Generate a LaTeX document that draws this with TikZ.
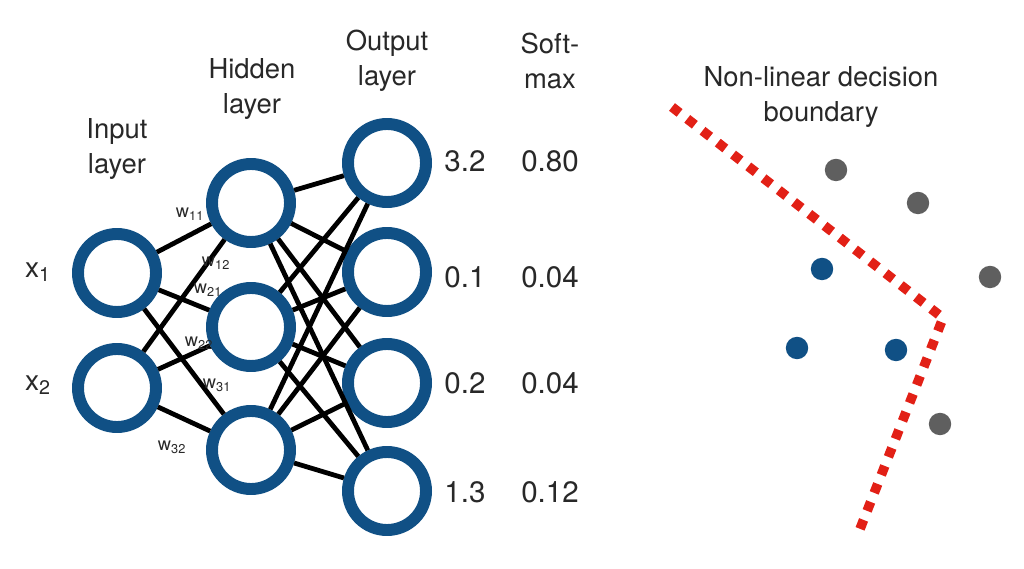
\documentclass[tikz,border=0pt]{standalone}
\usepackage{fontspec}
\setmainfont{TeX Gyre Heros}
\definecolor{netblue}{RGB}{16,80,133}
\definecolor{dotgray}{RGB}{95,95,95}
\definecolor{bndred}{RGB}{226,32,22}
\definecolor{txtgray}{RGB}{40,40,40}
\begin{document}
\begin{tikzpicture}[x=0.025cm,y=-0.025cm,
  neuron/.style={circle,draw=netblue,line width=8.5pt,minimum size=1.95cm,inner sep=0pt},
  wire/.style={line width=3.4pt,black},
  head/.style={align=center,text=txtgray,font=\fontsize{19.5}{25}\selectfont},
  val/.style={text=txtgray,font=\fontsize{21}{24}\selectfont},
  wlab/.style={text=txtgray,font=\fontsize{13}{14}\selectfont,inner sep=1pt},
  xlab/.style={text=txtgray,font=\fontsize{20}{22}\selectfont},
  dot/.style={circle,inner sep=0pt,minimum size=0.56cm}]
\useasboundingbox (0,0) rectangle (1024,569);
% input layer
\node[neuron] (i1) at (117,273) {};
\node[neuron] (i2) at (117,388) {};
% hidden layer
\node[neuron] (h1) at (251,203) {};
\node[neuron] (h2) at (251,327) {};
\node[neuron] (h3) at (251,450) {};
% output layer
\node[neuron] (o1) at (387,163) {};
\node[neuron] (o2) at (387,272) {};
\node[neuron] (o3) at (387,383) {};
\node[neuron] (o4) at (387,491) {};
\foreach \a in {i1,i2}
  \foreach \b in {h1,h2,h3}
    \draw[wire] (\a) -- (\b);
\foreach \a in {h1,h2,h3}
  \foreach \b in {o1,o2,o3,o4}
    \draw[wire] (\a) -- (\b);
% labels
\node[head] (hin) at (117,149) {Input\\layer};
\node[head] (hhid) at (252,89) {Hidden\\layer};
\node[head] (hout) at (387,61) {Output\\layer};
\node[head] (hsm) at (550,61) {Soft-\\max};
\node[xlab] (x1) at (38,272) {x\textsubscript{1}};
\node[xlab] (x2) at (38,385) {x\textsubscript{2}};
\node[wlab] (w11) at (190,214) {w\textsubscript{11}};
\node[wlab] (w12) at (216,263) {w\textsubscript{12}};
\node[wlab] (w21) at (208,290) {w\textsubscript{21}};
\node[wlab] (w22) at (199,343) {w\textsubscript{22}};
\node[wlab] (w31) at (217,385) {w\textsubscript{31}};
\node[wlab] (w32) at (172,447) {w\textsubscript{32}};
\node[val] (v1) at (465,161) {3.2};
\node[val] (v2) at (465,277) {0.1};
\node[val] (v3) at (465,383) {0.2};
\node[val] (v4) at (465,492) {1.3};
\node[val] (s1) at (550,161) {0.80};
\node[val] (s2) at (550,277) {0.04};
\node[val] (s3) at (550,383) {0.04};
\node[val] (s4) at (550,492) {0.12};
% decision boundary
\node[head] (hdb) at (821,97) {Non-linear decision\\boundary};
\coordinate (b0) at (672,107);
\coordinate (b1) at (943,318);
\coordinate (b2) at (860,529);
\draw[bndred,line width=0.24cm,dash pattern=on 0.24cm off 0.243cm] (b0) -- (b1) -- (b2);
\node[dot,fill=dotgray] (g1) at (836,170) {};
\node[dot,fill=dotgray] (g2) at (918,203) {};
\node[dot,fill=dotgray] (g3) at (990,277) {};
\node[dot,fill=dotgray] (g4) at (940,424) {};
\node[dot,fill=netblue] (p1) at (822,269) {};
\node[dot,fill=netblue] (p2) at (797,348) {};
\node[dot,fill=netblue] (p3) at (896,350) {};
\end{tikzpicture}
\end{document}
